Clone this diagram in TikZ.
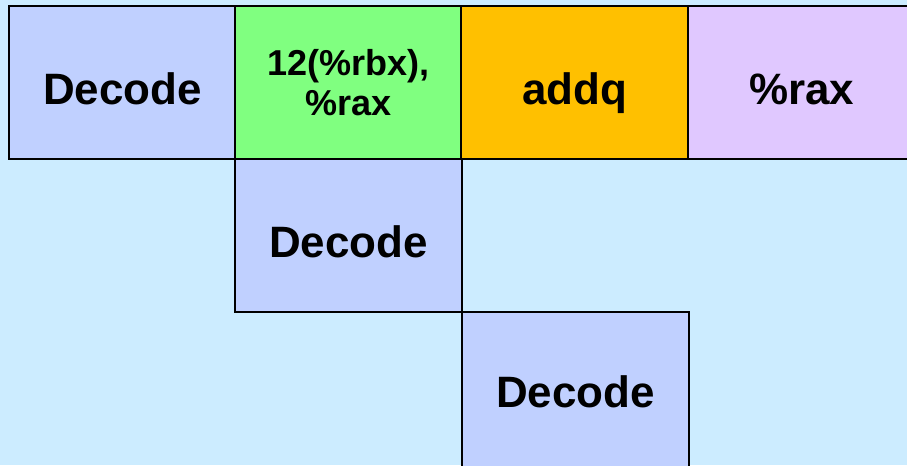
\documentclass[tikz,border=0pt]{standalone}
\usepackage{fontspec}
\setmainfont{Liberation Sans}
\usetikzlibrary{positioning}

\definecolor{bgblue}{HTML}{CCECFF}
\definecolor{decblue}{HTML}{C0D0FF}
\definecolor{opgreen}{HTML}{80FF80}
\definecolor{oporange}{HTML}{FFC000}
\definecolor{regpurple}{HTML}{E0C8FF}

\tikzset{
  stage/.style={draw=black, line width=1.5pt, minimum width=4.54cm, minimum height=3.06cm,
    inner sep=0pt, outer sep=0pt, align=center, text height=25pt, text depth=0pt,
    font=\fontsize{25}{28}\selectfont\bfseries},
  smalltext/.style={text height=, text depth=, font=\fontsize{20.5}{23}\selectfont\bfseries}
}

\begin{document}
\begin{tikzpicture}
  \useasboundingbox (0,0) rectangle (18.14,-9.3);
  \fill [bgblue] (0,0) rectangle (18.14,-9.3);
  \clip (0,0) rectangle (18.14,-9.3);

  % fetched instruction bytes
  \node [stage, fill=decblue] (dec1) at (2.45,-1.65) {Decode};
  \node [stage, fill=opgreen, smalltext] (src) at (6.97,-1.65) {12(\%rbx),\\\%rax};
  \node [stage, fill=oporange] (op) at (11.49,-1.65) {addq};
  \node [stage, fill=regpurple] (dst) at (16.03,-1.65) {\%rax};

  % decode stages step down, the last one runs off the bottom
  \node [stage, fill=decblue, anchor=north] (dec2) at (src.south) {Decode};
  \node [stage, fill=decblue, anchor=north west, minimum height=3.3cm, text height=15pt] (dec3) at (dec2.south east) {Decode};
\end{tikzpicture}
\end{document}
